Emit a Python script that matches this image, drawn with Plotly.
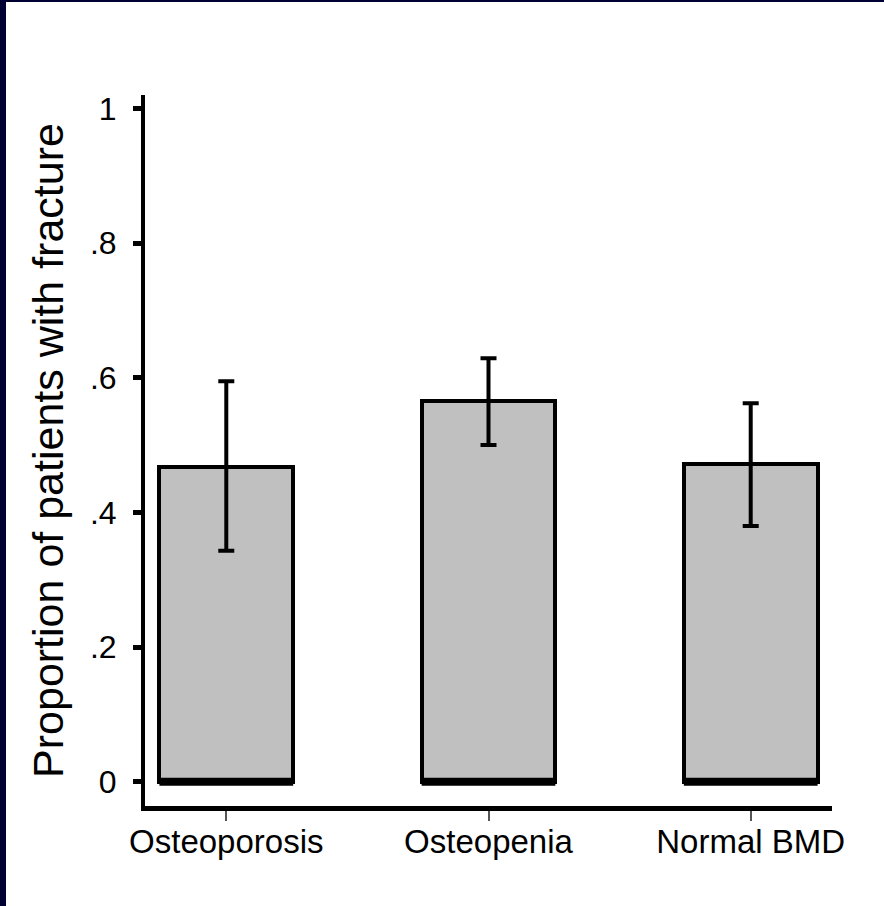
import plotly.graph_objects as go

categories = ["Osteoporosis", "Osteopenia", "Normal BMD"]
proportions = [0.467, 0.565, 0.472]
err_upper = [0.128, 0.064, 0.090]
err_lower = [0.124, 0.065, 0.092]
y_tick_vals = [0, 0.2, 0.4, 0.6, 0.8, 1.0]
y_tick_text = ["0", ".2", ".4", ".6", ".8", "1"]
y_title = "Proportion of patients with fracture"

W, H = 884, 906
ML, MR, MT, MB = 145, 52, 95, 100
BAR_W = 0.51
FONT = "Liberation Sans, Arial, sans-serif"

xs = list(range(len(categories)))

fig = go.Figure()
fig.add_trace(go.Bar(
    x=xs, y=proportions, width=BAR_W,
    marker=dict(color="#c0c0c0", line=dict(color="black", width=4)),
    error_y=dict(type="data", symmetric=False, array=err_upper, arrayminus=err_lower,
                 color="black", thickness=4, width=8),
    showlegend=False,
))

# thick bottom edge of each bar
bx, by = [], []
for i in xs:
    bx += [i - BAR_W / 2, i + BAR_W / 2, None]
    by += [0, 0, None]
fig.add_trace(go.Scatter(x=bx, y=by, mode="lines", line=dict(color="black", width=8),
                         showlegend=False, hoverinfo="skip"))

pw = W - ML - MR
ph = H - MT - MB
def px_x(p):
    return (p - ML) / pw
def px_y(p):
    return 1 - (p - MT) / ph

fig.update_layout(
    width=W, height=H,
    margin=dict(l=ML, r=MR, t=MT, b=MB, autoexpand=False),
    paper_bgcolor="white", plot_bgcolor="white",
    font=dict(family=FONT, color="black"),
    bargap=0,
    shapes=[
        dict(type="rect", xref="paper", yref="paper", x0=px_x(0), x1=px_x(6),
             y0=px_y(H), y1=px_y(0), fillcolor="#000033", line=dict(width=0), layer="above"),
        dict(type="rect", xref="paper", yref="paper", x0=px_x(0), x1=px_x(W),
             y0=px_y(2), y1=px_y(0), fillcolor="#000033", line=dict(width=0), layer="above"),
    ],
)
fig.update_xaxes(
    range=[-0.31, 2.31], tickvals=xs, ticktext=categories,
    showline=True, linecolor="black", linewidth=5,
    ticks="outside", ticklen=10, tickwidth=2, tickcolor="#555555",
    tickfont=dict(size=33, family=FONT), showgrid=False, zeroline=False,
    ticklabelstandoff=-8,
)
fig.update_yaxes(
    range=[-0.036, 1.02], tickvals=y_tick_vals, ticktext=y_tick_text,
    showline=True, linecolor="black", linewidth=4,
    ticks="outside", ticklen=8, tickwidth=5, tickcolor="black",
    tickfont=dict(size=32, family=FONT), showgrid=False, zeroline=False,
    ticklabelstandoff=10,
    title=dict(text=y_title, font=dict(size=43, family=FONT), standoff=14),
)

fig.write_html("out.html")
